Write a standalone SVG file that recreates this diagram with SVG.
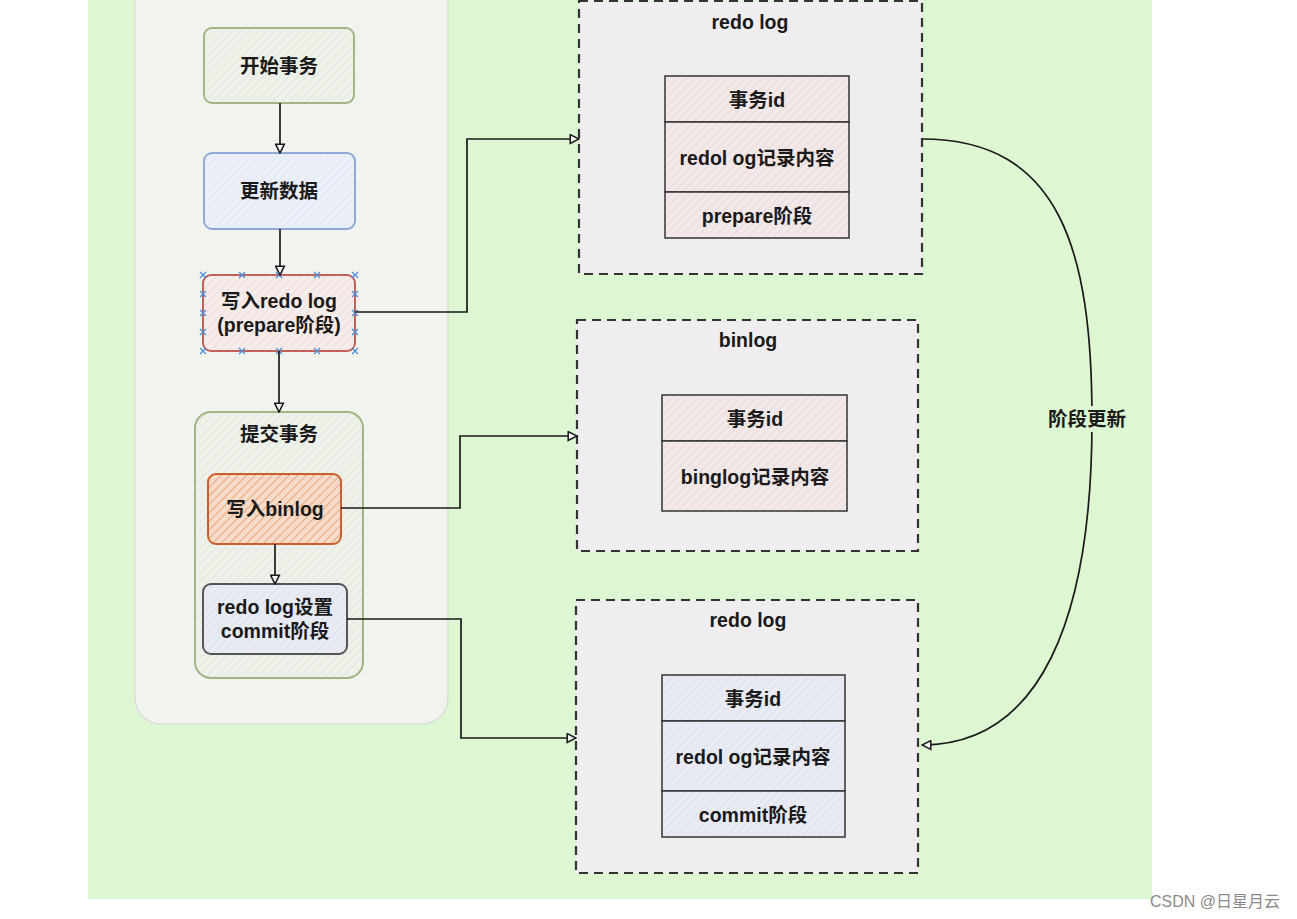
<svg xmlns="http://www.w3.org/2000/svg" width="1297" height="919" viewBox="0 0 1297 919">
<style>
text{font-family:"Liberation Sans","Noto Sans CJK SC",sans-serif;font-weight:bold;font-size:19.5px;fill:#1a1a1a;text-anchor:middle;dominant-baseline:central}
.conn{fill:none;stroke:#1a1a1a;stroke-width:1.7}
.dash{fill:#efedf0;stroke:#333;stroke-width:2.2;stroke-dasharray:9 6}
.cell{stroke:#333;stroke-width:1.5}
.h{fill:none;stroke:#4d8fd6;stroke-width:1.3}
</style>
<defs>
<pattern id="hg" patternUnits="userSpaceOnUse" width="6" height="6" patternTransform="rotate(45)"><rect width="6" height="6" fill="#eef1e9"/><line x1="0" y1="0" x2="0" y2="6" stroke="#dfe4d6" stroke-width="1.5"/></pattern>
<pattern id="hb" patternUnits="userSpaceOnUse" width="6" height="6" patternTransform="rotate(45)"><rect width="6" height="6" fill="#ebeff8"/><line x1="0" y1="0" x2="0" y2="6" stroke="#dde3f0" stroke-width="1.5"/></pattern>
<pattern id="hr" patternUnits="userSpaceOnUse" width="6" height="6" patternTransform="rotate(45)"><rect width="6" height="6" fill="#f6ecea"/><line x1="0" y1="0" x2="0" y2="6" stroke="#ecd8d5" stroke-width="1.5"/></pattern>
<pattern id="ho" patternUnits="userSpaceOnUse" width="6" height="6" patternTransform="rotate(45)"><rect width="6" height="6" fill="#f6dcc8"/><line x1="0" y1="0" x2="0" y2="6" stroke="#e9a57a" stroke-width="2"/></pattern>
<pattern id="hp" patternUnits="userSpaceOnUse" width="6" height="6" patternTransform="rotate(45)"><rect width="6" height="6" fill="#f2e8e8"/><line x1="0" y1="0" x2="0" y2="6" stroke="#e6d6d6" stroke-width="1.5"/></pattern>
<pattern id="hs" patternUnits="userSpaceOnUse" width="6" height="6" patternTransform="rotate(45)"><rect width="6" height="6" fill="#e8ebf3"/><line x1="0" y1="0" x2="0" y2="6" stroke="#dadfea" stroke-width="1.5"/></pattern>
<marker id="arr" viewBox="0 0 10 10" refX="9" refY="5" markerWidth="11" markerHeight="11" orient="auto" markerUnits="userSpaceOnUse"><path d="M1,1 L9,5 L1,9 Z" fill="#f3f3f3" stroke="#1a1a1a" stroke-width="1.4"/></marker>
</defs>
<rect x="0" y="0" width="1297" height="919" fill="#ffffff"/>
<rect x="88" y="0" width="1064" height="899" fill="#dcf7d2"/>
<rect id="panel" x="135" y="-30" width="313" height="754" rx="26" fill="#f1f3ee" stroke="#dcdfd8" stroke-width="1.5"/>

<g id="n-start">
<rect x="204" y="28" width="150" height="75" rx="8" fill="url(#hg)" stroke="#a3b587" stroke-width="2"/>
<text x="279" y="66">开始事务</text>
</g>
<g id="n-update">
<rect x="204" y="153" width="151" height="76" rx="8" fill="url(#hb)" stroke="#91a8d6" stroke-width="2"/>
<text x="279" y="191">更新数据</text>
</g>
<g id="n-redo-prepare">
<rect x="203" y="275" width="152" height="76" rx="8" fill="url(#hr)" stroke="#c2615b" stroke-width="2"/>
<text x="279" y="301">写入redo log</text>
<text x="279" y="325">(prepare阶段)</text>
<g class="h">
<path d="M200,272 l6,6 M206,272 l-6,6"/><path d="M239,272 l6,6 M245,272 l-6,6"/><path d="M276,272 l6,6 M282,272 l-6,6"/><path d="M314,272 l6,6 M320,272 l-6,6"/><path d="M352,272 l6,6 M358,272 l-6,6"/>
<path d="M200,348 l6,6 M206,348 l-6,6"/><path d="M239,348 l6,6 M245,348 l-6,6"/><path d="M276,348 l6,6 M282,348 l-6,6"/><path d="M314,348 l6,6 M320,348 l-6,6"/><path d="M352,348 l6,6 M358,348 l-6,6"/>
<path d="M200,291 l6,6 M206,291 l-6,6"/><path d="M200,310 l6,6 M206,310 l-6,6"/><path d="M200,329 l6,6 M206,329 l-6,6"/>
<path d="M352,291 l6,6 M358,291 l-6,6"/><path d="M352,310 l6,6 M358,310 l-6,6"/><path d="M352,329 l6,6 M358,329 l-6,6"/>
</g>
</g>
<g id="n-commit-group">
<rect x="195" y="412" width="168" height="266" rx="16" fill="url(#hg)" stroke="#a3b587" stroke-width="2"/>
<text x="279" y="434">提交事务</text>
</g>
<g id="n-binlog">
<rect x="208" y="474" width="133" height="70" rx="8" fill="url(#ho)" stroke="#c95f2c" stroke-width="2"/>
<text x="275" y="509">写入binlog</text>
</g>
<g id="n-redo-commit">
<rect x="203" y="584" width="144" height="70" rx="8" fill="url(#hs)" stroke="#555" stroke-width="2"/>
<text x="275" y="607">redo log设置</text>
<text x="275" y="631">commit阶段</text>
</g>

<g id="box-redo1">
<rect class="dash" x="579" y="1" width="343" height="273"/>
<text x="750" y="22">redo log</text>
<rect class="cell" x="665" y="76" width="184" height="46" fill="url(#hp)"/>
<rect class="cell" x="665" y="122" width="184" height="70" fill="url(#hp)"/>
<rect class="cell" x="665" y="192" width="184" height="46" fill="url(#hp)"/>
<text x="757" y="100">事务id</text>
<text x="757" y="158">redol og记录内容</text>
<text x="757" y="216">prepare阶段</text>
</g>
<g id="box-binlog">
<rect class="dash" x="577" y="320" width="341" height="231"/>
<text x="748" y="340">binlog</text>
<rect class="cell" x="662" y="395" width="185" height="46" fill="url(#hp)"/>
<rect class="cell" x="662" y="441" width="185" height="70" fill="url(#hp)"/>
<text x="755" y="419">事务id</text>
<text x="755" y="477">binglog记录内容</text>
</g>
<g id="box-redo2">
<rect class="dash" x="576" y="600" width="342" height="273"/>
<text x="748" y="620">redo log</text>
<rect class="cell" x="662" y="675" width="183" height="46" fill="url(#hs)"/>
<rect class="cell" x="662" y="721" width="183" height="70" fill="url(#hs)"/>
<rect class="cell" x="662" y="791" width="183" height="46" fill="url(#hs)"/>
<text x="753" y="699">事务id</text>
<text x="753" y="757">redol og记录内容</text>
<text x="753" y="815">commit阶段</text>
</g>

<g id="connectors">
<line class="conn" x1="280" y1="103" x2="280" y2="153" marker-end="url(#arr)"/>
<line class="conn" x1="280" y1="229" x2="280" y2="275" marker-end="url(#arr)"/>
<line class="conn" x1="279" y1="351" x2="279" y2="412" marker-end="url(#arr)"/>
<line class="conn" x1="275" y1="544" x2="275" y2="584" marker-end="url(#arr)"/>
<path class="conn" d="M355,312 H467 V139 H579" marker-end="url(#arr)"/>
<path class="conn" d="M341,508 H460 V436 H577" marker-end="url(#arr)"/>
<path class="conn" d="M347,619 H461 V738 H576" marker-end="url(#arr)"/>
<path class="conn" d="M922,139 C1060,139 1092,250 1092,420 C1092,620 1040,745 922,745" marker-end="url(#arr)"/>
<rect x="1045" y="406" width="84" height="26" fill="#dcf7d2"/>
<text x="1087" y="419">阶段更新</text>
</g>
<text x="1215" y="901" style="font-weight:normal;font-size:16px;fill:#8a8a8a">CSDN @日星月云</text>
</svg>
